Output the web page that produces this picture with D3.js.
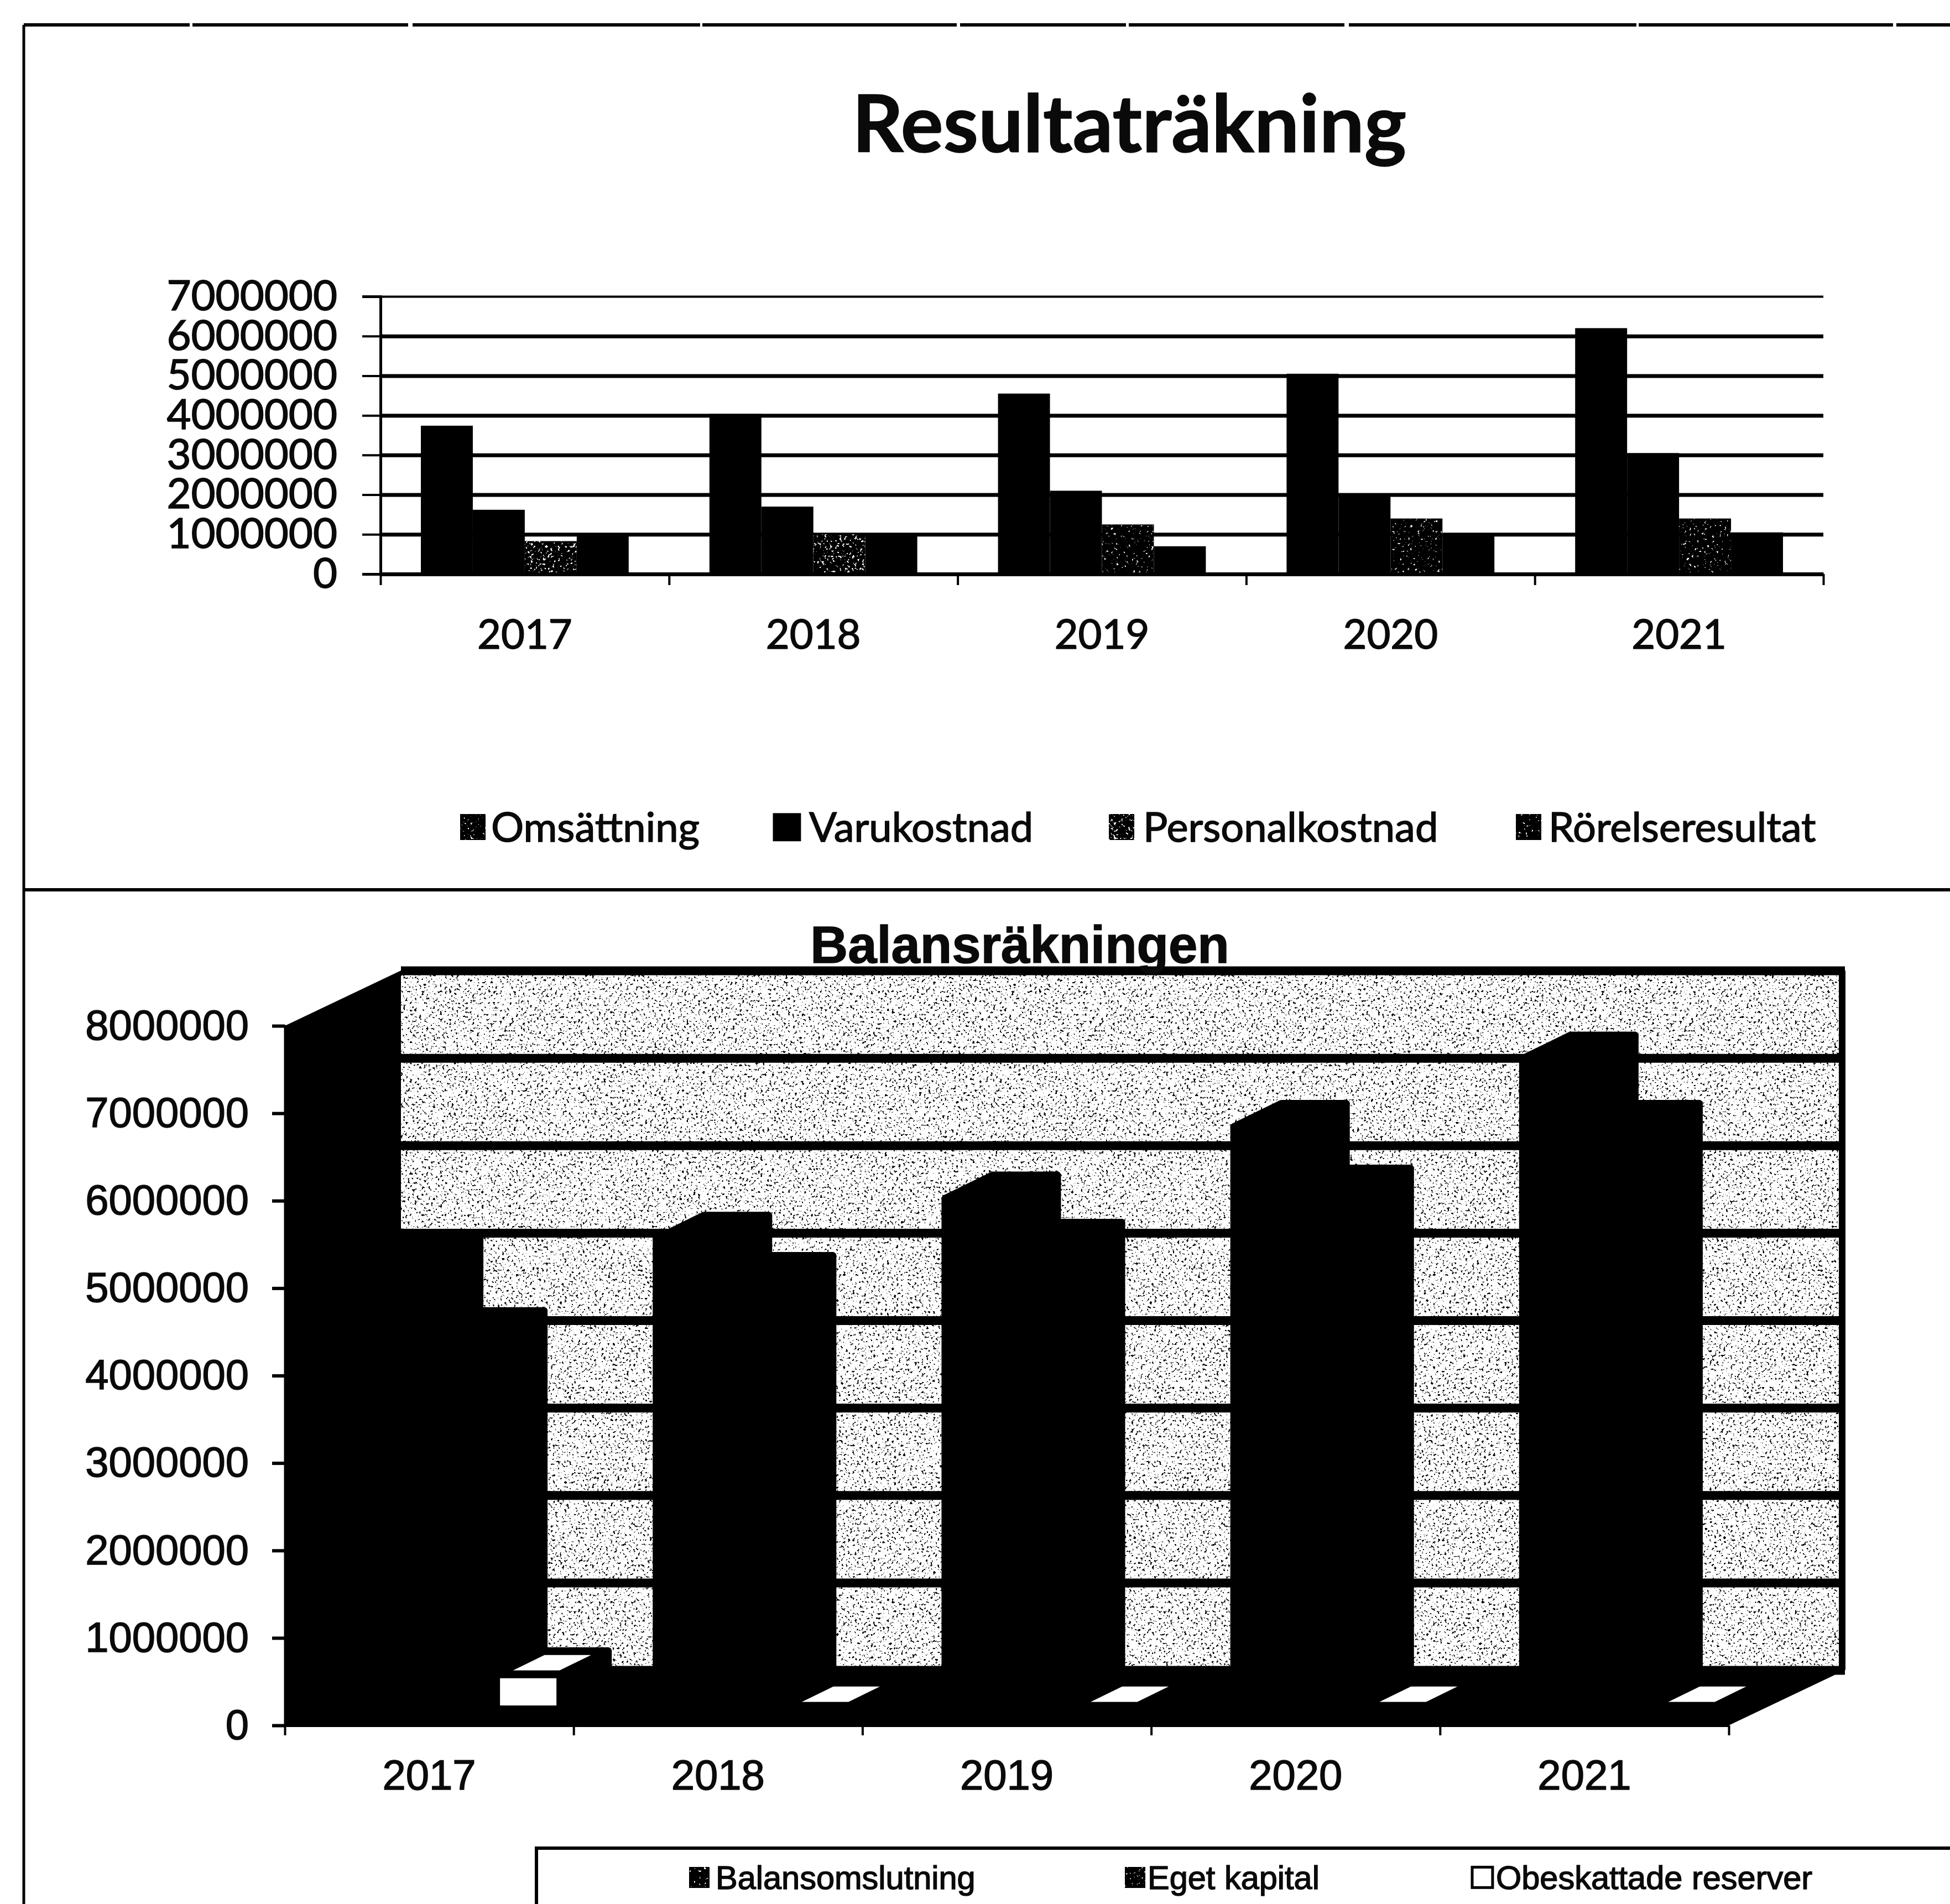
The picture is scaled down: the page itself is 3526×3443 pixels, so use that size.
<!DOCTYPE html>
<html>
<head>
<meta charset="utf-8">
<script src="https://cdn.jsdelivr.net/npm/d3@7"></script>
<style>
  html, body { margin: 0; background: #fff; }
  svg { display: block; }
  .top-text { font-family: Lato, sans-serif; fill: #0a0a0a; stroke: #0a0a0a; stroke-width: 1.5px; }
  .bottom-text { font-family: "Liberation Sans", Arial, sans-serif; fill: #0a0a0a; stroke: #0a0a0a; stroke-width: 1.5px; }
  .axis path, .axis line, .grid line { stroke: #000; }
  .grid path { display: none; }
</style>
</head>
<body>
<script>
const years = ['2017', '2018', '2019', '2020', '2021'];

// Resultaträkning
const incomeSeries = ['Omsättning', 'Varukostnad', 'Personalkostnad', 'Rörelseresultat'];
const omsattning = [3740000, 4040000, 4550000, 5050000, 6200000];
const varukostnad = [1620000, 1700000, 2100000, 2000000, 3050000];
const personalkostnad = [830000, 1000000, 1250000, 1400000, 1400000];
const rorelseresultat = [1000000, 1000000, 700000, 1000000, 1050000];
const incomeTicks = [0, 1000000, 2000000, 3000000, 4000000, 5000000, 6000000, 7000000];

// Balansräkningen
const balanceSeries = ['Balansomslutning', 'Eget kapital', 'Obeskattade reserver'];
const balansomslutning = [5160000, 5380000, 5840000, 6660000, 7440000];
const egetKapital = [4290000, 4920000, 5300000, 5920000, 6660000];
const obeskattade = [400000, 40000, 40000, 40000, 40000];
const balanceTicks = [0, 1000000, 2000000, 3000000, 4000000, 5000000, 6000000, 7000000, 8000000];

const width = 3526;
const height = 3443;

const svg = d3.select('body').append('svg').attr('width', width).attr('height', height);

// print speckle, used for the chart wall and the scanned-looking bars
const defs = svg.append('defs');
function addSpeckle(id, color, freq, slope, cut) {
  const f = defs.append('filter').attr('id', id)
    .attr('filterUnits', 'objectBoundingBox')
    .attr('x', 0).attr('y', 0).attr('width', 1).attr('height', 1)
    .attr('color-interpolation-filters', 'sRGB');
  f.append('feTurbulence').attr('type', 'fractalNoise').attr('baseFrequency', freq)
    .attr('numOctaves', 2).attr('seed', 7).attr('result', 'noise');
  f.append('feColorMatrix').attr('in', 'noise').attr('type', 'matrix')
    .attr('values', `0 0 0 0 ${color} 0 0 0 0 ${color} 0 0 0 0 ${color} ${slope} 0 0 0 ${cut}`)
    .attr('result', 'dots');
  f.append('feComposite').attr('in', 'dots').attr('in2', 'SourceAlpha').attr('operator', 'in').attr('result', 'clipped');
  const merge = f.append('feMerge');
  merge.append('feMergeNode').attr('in', 'SourceGraphic');
  merge.append('feMergeNode').attr('in', 'clipped');
}
addSpeckle('wallSpeckle', 0, 0.24, 16, -9.9);
addSpeckle('barSpeckle', 1, 0.22, 14, -8.6);
addSpeckle('barSpeckleFaint', 1, 0.22, 14, -9.4);

// page frame
svg.append('line').attr('x1', 43).attr('x2', width).attr('y1', 45).attr('y2', 45)
  .attr('stroke', '#000').attr('stroke-width', 6).attr('stroke-dasharray', '300 5 390 8 520 4 460 6');
svg.append('line').attr('x1', 43).attr('x2', 43).attr('y1', 45).attr('y2', height)
  .attr('stroke', '#000').attr('stroke-width', 5);
svg.append('line').attr('x1', 43).attr('x2', width).attr('y1', 1609).attr('y2', 1609)
  .attr('stroke', '#000').attr('stroke-width', 6);

function legend(group, names, swatchX, textX, y, size, cls, swatchFill, swatchFilter) {
  names.forEach((name, i) => {
    group.append('rect').attr('x', swatchX[i]).attr('y', y - size / 3.2)
      .attr('width', size * 0.62).attr('height', size * 0.62)
      .attr('fill', swatchFill[i]).attr('stroke', '#000').attr('stroke-width', 5)
      .attr('filter', swatchFilter[i]);
    group.append('text').attr('class', cls).attr('x', textX[i]).attr('y', y)
      .attr('dy', '0.35em').style('font-size', `${size}px`).text(name);
  });
}

// ---- top chart ----
function drawIncome() {
  const left = 688, right = 3297, top = 536, bottom = 1038;
  const g = svg.append('g');
  const x = d3.scaleBand().domain(years).range([left, right]);
  const inner = d3.scaleBand().domain(incomeSeries).range([0, x.bandwidth()]).paddingOuter(0.777).paddingInner(0);
  const y = d3.scaleLinear().domain([0, 7000000]).range([bottom, top]);
  const values = [omsattning, varukostnad, personalkostnad, rorelseresultat];

  g.append('text').attr('class', 'top-text').attr('x', 2042).attr('y', 275)
    .attr('text-anchor', 'middle').style('font-size', '144px').style('font-weight', 700)
    .text('Resultaträkning');

  const grid = g.append('g').attr('class', 'grid').attr('transform', `translate(${left},0)`)
    .call(d3.axisLeft(y).tickValues(incomeTicks).tickSize(-(right - left)).tickFormat(''));
  grid.selectAll('line').attr('stroke-width', (d) => (d === 7000000 ? 4 : 7));

  incomeSeries.forEach((name, s) => {
    g.selectAll(`.bar-${s}`).data(values[s]).enter().append('rect')
      .attr('class', `bar-${s}`)
      .attr('x', (d, i) => x(years[i]) + inner(name))
      .attr('y', (d) => y(d))
      .attr('width', inner.bandwidth())
      .attr('height', (d) => bottom - y(d))
      .attr('fill', '#000')
      .attr('filter', (d, i) => (s === 2 ? (i < 2 ? 'url(#barSpeckle)' : 'url(#barSpeckleFaint)') : null));
  });

  const yAxis = g.append('g').attr('class', 'axis').attr('transform', `translate(${left},0)`)
    .call(d3.axisLeft(y).tickValues(incomeTicks).tickSize(33).tickPadding(45).tickFormat(d3.format('d')));
  yAxis.selectAll('line').attr('stroke-width', 4);
  yAxis.select('.domain').attr('stroke-width', 5);
  yAxis.selectAll('text').attr('class', 'top-text').style('font-size', '76px').style('font-family', 'Lato, sans-serif').attr('fill', '#0a0a0a');

  const edges = d3.scaleLinear().domain([0, 5]).range([left, right]);
  const ticks = g.append('g').attr('class', 'axis').attr('transform', `translate(0,${bottom})`)
    .call(d3.axisBottom(edges).ticks(5).tickSize(20).tickSizeOuter(0).tickFormat(''));
  ticks.selectAll('line').attr('stroke-width', 4);
  ticks.select('.domain').attr('stroke-width', 7);

  const labels = g.append('g').attr('transform', `translate(0,${bottom + 109})`)
    .call(d3.axisBottom(x).tickSize(0).tickPadding(0));
  labels.select('.domain').remove();
  labels.selectAll('text').attr('class', 'top-text').attr('dy', '0.35em')
    .style('font-size', '74px').style('font-family', 'Lato, sans-serif').attr('fill', '#0a0a0a');

  legend(g, incomeSeries, [832, 1400, 2005, 2741], [888, 1463, 2067, 2800], 1496, 74, 'top-text',
    ['#000', '#000', '#000', '#000'], ['url(#barSpeckleFaint)', null, 'url(#barSpeckle)', 'url(#barSpeckleFaint)']);
}

// ---- bottom chart (3-D columns) ----
function drawBalance() {
  const left = 515, right = 3126, top = 1855, bottom = 3120;
  const wallDx = 210, wallDy = -100;    // back wall offset
  const barDx = 63, barDy = -29;        // column front plane offset
  const depthDx = 86, depthDy = -42;    // column depth
  const g = svg.append('g');
  const x = d3.scaleBand().domain(years).range([left, right]);
  const inner = d3.scaleBand().domain(balanceSeries).range([0, x.bandwidth()]).paddingOuter(0.75).paddingInner(0);
  const y = d3.scaleLinear().domain([0, 8000000]).range([bottom, top]);
  const values = [balansomslutning, egetKapital, obeskattade];
  const w = right - left;

  g.append('rect').attr('x', left + wallDx).attr('y', top + wallDy)
    .attr('width', w).attr('height', bottom - top)
    .attr('fill', '#fff').attr('filter', 'url(#wallSpeckle)');

  const grid = g.append('g').attr('class', 'grid').attr('transform', `translate(${left + wallDx},${wallDy})`)
    .call(d3.axisLeft(y).tickValues(balanceTicks).tickSize(-w).tickFormat(''));
  grid.selectAll('line').attr('stroke-width', 16);
  g.append('line').attr('x1', right + wallDx - 5).attr('x2', right + wallDx - 5)
    .attr('y1', top + wallDy).attr('y2', bottom + wallDy)
    .attr('stroke', '#000').attr('stroke-width', 12);

  // side wall and floor
  const wallPath = d3.path();
  wallPath.moveTo(left, y(8000000));
  wallPath.lineTo(left + wallDx, y(8000000) + wallDy);
  wallPath.lineTo(left + wallDx, y(0) + wallDy);
  wallPath.lineTo(right + wallDx, y(0) + wallDy);
  wallPath.lineTo(right, y(0));
  wallPath.lineTo(left, y(0));
  wallPath.closePath();
  g.append('path').attr('d', wallPath.toString()).attr('fill', '#000');

  // columns, left to right so the small one sits on top
  balanceSeries.forEach((name, s) => {
    values[s].forEach((v, i) => {
      const x0 = x(years[i]) + inner(name) + barDx;
      const x1 = x0 + inner.bandwidth();
      const yt = y(v) + barDy;
      const yb = y(0) + barDy;
      const col = g.append('g').attr('stroke', '#000').attr('stroke-width', 14).attr('stroke-linejoin', 'round');
      const fill = s === 2 ? '#fff' : '#000';
      col.append('path').attr('fill', '#000')
        .attr('d', `M${x1},${yt}L${x1 + depthDx},${yt + depthDy}V${yb + depthDy}L${x1},${yb}Z`);
      col.append('path').attr('fill', fill)
        .attr('d', `M${x0},${yt}H${x1}L${x1 + depthDx},${yt + depthDy}H${x0 + depthDx}Z`);
      col.append('rect').attr('x', x0).attr('y', yt).attr('width', x1 - x0).attr('height', yb - yt)
        .attr('fill', fill);
    });
  });

  const yAxis = g.append('g').attr('class', 'axis').attr('transform', `translate(${left},0)`)
    .call(d3.axisLeft(y).tickValues(balanceTicks).tickSize(23).tickPadding(42).tickFormat(d3.format('d')));
  yAxis.selectAll('line').attr('stroke-width', 6);
  yAxis.select('.domain').attr('stroke-width', 4);
  yAxis.selectAll('text').attr('class', 'bottom-text').style('font-size', '76px')
    .style('font-family', '"Liberation Sans", Arial, sans-serif').attr('fill', '#0a0a0a');

  const edges = d3.scaleLinear().domain([0, 5]).range([left, right]);
  const ticks = g.append('g').attr('class', 'axis').attr('transform', `translate(0,${bottom})`)
    .call(d3.axisBottom(edges).ticks(5).tickSize(18).tickSizeOuter(0).tickFormat(''));
  ticks.selectAll('line').attr('stroke-width', 4);
  ticks.select('.domain').attr('stroke-width', 5);

  const labels = g.append('g').attr('transform', `translate(0,${bottom + 89})`)
    .call(d3.axisBottom(x).tickSize(0).tickPadding(0));
  labels.select('.domain').remove();
  labels.selectAll('text').attr('class', 'bottom-text').attr('dy', '0.35em')
    .style('font-size', '76px').style('font-family', '"Liberation Sans", Arial, sans-serif').attr('fill', '#0a0a0a');

  g.append('text').attr('class', 'bottom-text').attr('x', 1844).attr('y', 1741)
    .attr('text-anchor', 'middle').style('font-size', '94px').style('font-weight', 700)
    .text('Balansräkningen');

  // legend box runs off the page to the right and bottom
  g.append('path').attr('d', `M970,${height}V3342H${width}`)
    .attr('fill', 'none').attr('stroke', '#000').attr('stroke-width', 6);
  legend(g, balanceSeries, [1246, 2034, 2662], [1294, 2075, 2705], 3395, 59.5, 'bottom-text',
    ['#000', '#000', '#fff'], ['url(#barSpeckleFaint)', 'url(#barSpeckleFaint)', null]);
}

drawIncome();
drawBalance();
</script>
</body>
</html>
